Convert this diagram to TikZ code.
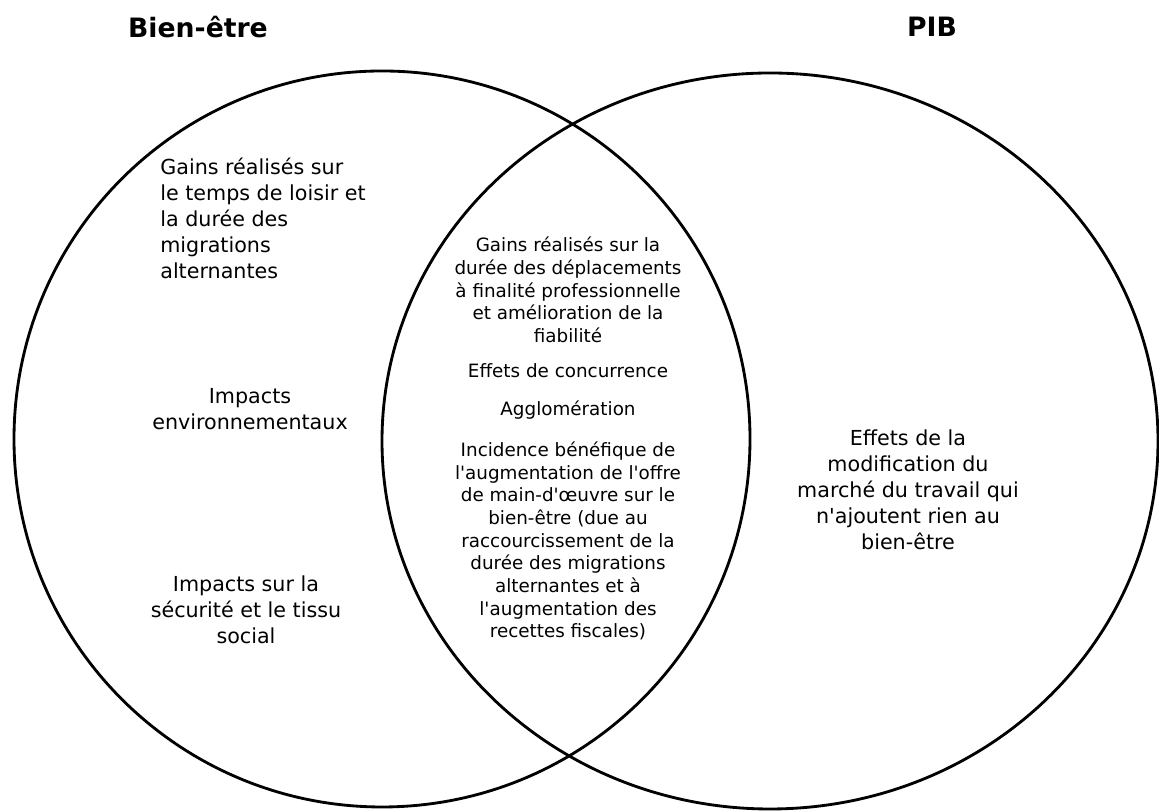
\documentclass[tikz,border=0pt]{standalone}
\usepackage{fontspec}
\setmainfont{DejaVu Sans}
\usetikzlibrary{calc}
\newcommand{\apo}{\textquotesingle}

\begin{document}
\begin{tikzpicture}[x=0.6pt,y=0.6pt,
    venn/.style={black, line width=1.7pt},
    titre/.style={font=\bfseries\fontsize{16}{18}\selectfont, inner sep=0pt},
    grand/.style={font=\fontsize{12.4}{15.6}\selectfont, inner sep=0pt},
    petit/.style={font=\fontsize{11}{13.6}\selectfont, inner sep=0pt, align=center},
]
\useasboundingbox (0,0) rectangle (1159,812);

% les deux ensembles
\draw[venn] (382,373) circle [x radius=368, y radius=368];
\draw[venn] (770,371) circle [x radius=388, y radius=368];

% titres
\node[titre] (bienetre) at (198,785) {Bien-être};
\node[titre] (pib) at (932,785) {PIB};

% bien-être seulement
\node[grand, align=left, anchor=west] (loisir) at (160,594)
    {Gains réalisés sur\\le temps de loisir et\\la durée des\\migrations\\alternantes};
\node[grand, align=center] (environ) at (250,403)
    {Impacts\\environnementaux};
\node[grand, align=center] (securite) at (246,202)
    {Impacts sur la\\sécurité et le tissu\\social};

% intersection
\node[petit] (deplacements) at (568,522)
    {Gains réalisés sur la\\durée des déplacements\\à finalité professionnelle\\et amélioration de la\\fiabilité};
\node[petit] (concurrence) at (568,441) {Effets de concurrence};
\node[petit] (agglo) at (568,402) {Agglomération};
\node[petit] (incidence) at (568,271)
    {Incidence bénéfique de\\l\apo augmentation de l\apo offre\\de main-d\apo œuvre sur le\\bien-être (due au\\raccourcissement de la\\durée des migrations\\alternantes et à\\l\apo augmentation des\\recettes fiscales)};

% PIB seulement
\node[grand, align=center] (travail) at (908,322)
    {Effets de la\\modification du\\marché du travail qui\\n\apo ajoutent rien au\\bien-être};
\end{tikzpicture}
\end{document}
